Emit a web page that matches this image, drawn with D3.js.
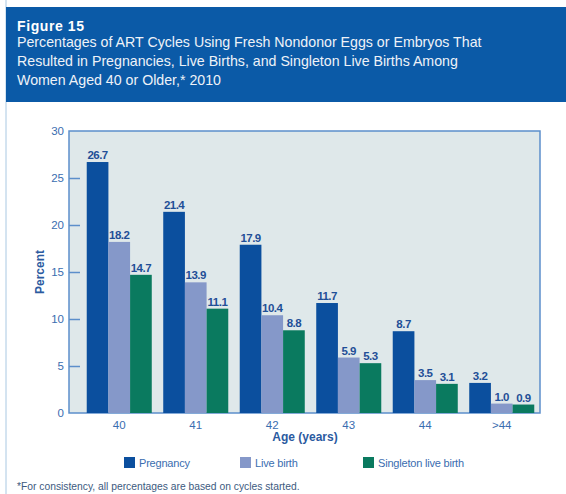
<!DOCTYPE html>
<html><head><meta charset="utf-8">
<script src="https://cdn.jsdelivr.net/npm/d3@7"></script>
<style>body{margin:0;background:#fff;}svg{display:block;font-family:"Liberation Sans",Arial,sans-serif;}</style>
</head><body>
<script>
const categories = ["40","41","42","43","44",">44"];
const seriesNames = ["Pregnancy","Live birth","Singleton live birth"];
const pregnancy = [26.7,21.4,17.9,11.7,8.7,3.2];
const liveBirth = [18.2,13.9,10.4,5.9,3.5,1.0];
const singleton = [14.7,11.1,8.8,5.3,3.1,0.9];
const yTicks = [0,5,10,15,20,25,30];
const valueLabels = [
  ["26.7","21.4","17.9","11.7","8.7","3.2"],
  ["18.2","13.9","10.4","5.9","3.5","1.0"],
  ["14.7","11.1","8.8","5.3","3.1","0.9"]
];
const colors = ["#0b4f9e","#8598c9","#0a7a5f"];

(function(){
const W=566,H=494;
const svg=d3.select("body").append("svg").attr("width",W).attr("height",H);

svg.append("line").attr("x1",6).attr("x2",6).attr("y1",0).attr("y2",H).attr("stroke","#a9c8e2").attr("stroke-width",1);
svg.append("rect").attr("x",6).attr("y",7).attr("width",W-6).attr("height",95).attr("fill","#0b5aa7");
svg.append("text").attr("x",17).attr("y",31).attr("fill","#fff").attr("font-weight","bold").attr("font-size",14).style("letter-spacing","0.6px").text("Figure 15");
const sub=["Percentages of ART Cycles Using Fresh Nondonor Eggs or Embryos That","Resulted in Pregnancies, Live Births, and Singleton Live Births Among","Women Aged 40 or Older,* 2010"];
sub.forEach((s,i)=>svg.append("text").attr("x",17).attr("y",47+i*19).attr("fill","#eef2f8").attr("font-size",14.2).text(s));

const pL=69,pR=540,pT=131,pB=413;
const y=d3.scaleLinear().domain([0,30]).range([pB,pT]);
const x0=d3.scaleBand().domain(categories).range([81,540]).paddingInner(0.15).paddingOuter(0.075);
const x1=d3.scaleBand().domain([0,1,2]).range([0,x0.bandwidth()]);

svg.append("rect").attr("x",pL).attr("y",pT).attr("width",pR-pL).attr("height",pB-pT).attr("fill","#dfe8ea").attr("stroke","#5c8fcb").attr("stroke-width",1.5);

const data=[pregnancy,liveBirth,singleton];
const g=svg.append("g");
data.forEach((arr,si)=>{
  g.selectAll(null).data(arr).enter().append("rect")
   .attr("x",(d,i)=>x0(categories[i])+x1(si))
   .attr("y",d=>y(d)).attr("width",x1.bandwidth()).attr("height",d=>pB-y(d))
   .attr("fill",colors[si]);
  g.selectAll(null).data(arr).enter().append("text")
   .attr("x",(d,i)=>x0(categories[i])+x1(si)+x1.bandwidth()/2)
   .attr("y",d=>y(d)-3).attr("text-anchor","middle").attr("font-size",11.5).attr("font-weight","bold")
   .style("letter-spacing","-0.5px").attr("fill","#1f4f97").text((d,i)=>valueLabels[si][i]);
});

const yAxis=d3.axisLeft(y).tickValues(yTicks).tickSize(-11).tickPadding(5).tickFormat(d3.format("d"));
const ya=svg.append("g").attr("transform",`translate(${pL},0)`).call(yAxis);
ya.select(".domain").remove();
ya.selectAll(".tick line").attr("stroke","#5c8fcb").attr("stroke-width",1.5);
ya.selectAll(".tick").filter(d=>d===0||d===30).select("line").remove();
ya.selectAll("text").attr("fill","#3a6db0").attr("font-size",11.5).attr("font-family","Liberation Sans, Arial, sans-serif");

const xa=svg.append("g").attr("transform",`translate(0,${pB})`).call(d3.axisBottom(x0).tickSize(0).tickPadding(8));
xa.select(".domain").remove();
xa.selectAll("text").attr("fill","#3a6db0").attr("font-size",11.5).attr("font-family","Liberation Sans, Arial, sans-serif");

svg.append("text").attr("x",305).attr("y",441).attr("text-anchor","middle").attr("font-weight","bold").attr("font-size",12).attr("fill","#2b5aa0").text("Age (years)");
svg.append("text").attr("transform","translate(44,272) rotate(-90)").attr("text-anchor","middle").attr("font-weight","bold").attr("font-size",12).attr("fill","#2b5aa0").text("Percent");

const legX=[124,240,363];
seriesNames.forEach((n,i)=>{
  svg.append("rect").attr("x",legX[i]).attr("y",457).attr("width",11).attr("height",11).attr("fill",colors[i]);
  svg.append("text").attr("x",legX[i]+15).attr("y",467).attr("font-size",11).style("letter-spacing","-0.2px").attr("fill","#3a6db0").text(n);
});
svg.append("text").attr("x",17).attr("y",490).attr("font-size",10.3).attr("fill","#3d5a80").text("*For consistency, all percentages are based on cycles started.");
})();
</script>
</body></html>
